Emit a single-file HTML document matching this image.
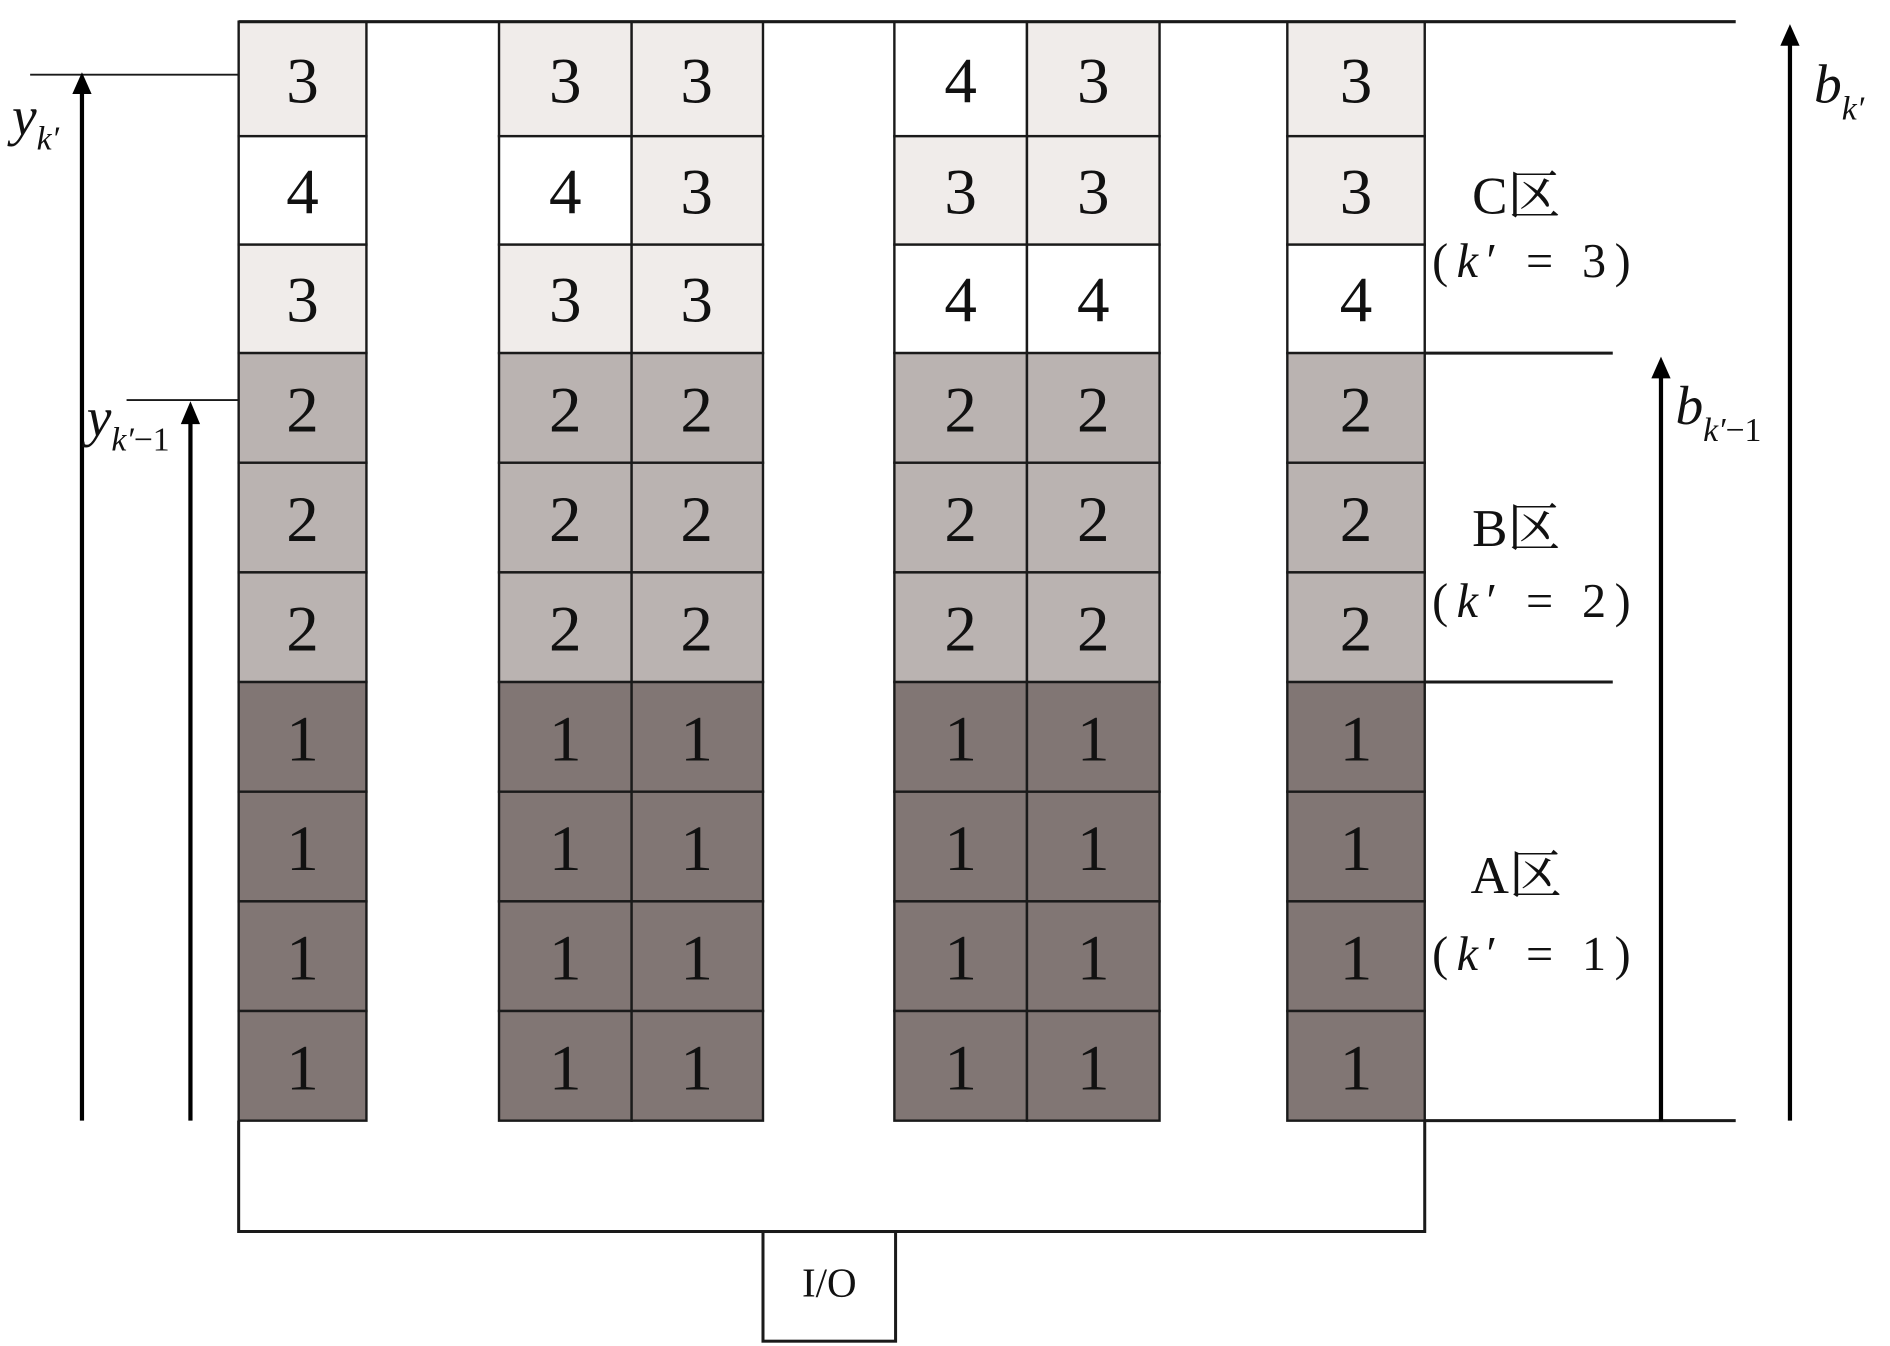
<!DOCTYPE html>
<html><head><meta charset="utf-8"><style>html,body{margin:0;padding:0;background:#fff}svg{display:block}</style></head>
<body>
<svg width="1890" height="1346" viewBox="0 0 1568 1117" preserveAspectRatio="none" xmlns="http://www.w3.org/2000/svg">
<g stroke="#1a1a1a" stroke-width="2">
<rect x="198" y="18" width="106" height="95" fill="#f0ecea"/>
<rect x="198" y="113" width="106" height="90" fill="#fff"/>
<rect x="198" y="203" width="106" height="90" fill="#f0ecea"/>
<rect x="414" y="18" width="110" height="95" fill="#f0ecea"/>
<rect x="414" y="113" width="110" height="90" fill="#fff"/>
<rect x="414" y="203" width="110" height="90" fill="#f0ecea"/>
<rect x="524" y="18" width="109" height="95" fill="#f0ecea"/>
<rect x="524" y="113" width="109" height="90" fill="#f0ecea"/>
<rect x="524" y="203" width="109" height="90" fill="#f0ecea"/>
<rect x="742" y="18" width="110" height="95" fill="#fff"/>
<rect x="742" y="113" width="110" height="90" fill="#f0ecea"/>
<rect x="742" y="203" width="110" height="90" fill="#fff"/>
<rect x="852" y="18" width="110" height="95" fill="#f0ecea"/>
<rect x="852" y="113" width="110" height="90" fill="#f0ecea"/>
<rect x="852" y="203" width="110" height="90" fill="#fff"/>
<rect x="1068" y="18" width="114" height="95" fill="#f0ecea"/>
<rect x="1068" y="113" width="114" height="90" fill="#f0ecea"/>
<rect x="1068" y="203" width="114" height="90" fill="#fff"/>
</g>
<g stroke="#1a1a1a" stroke-width="2" fill="#bab3b1">
<rect x="198" y="293" width="106" height="91"/><rect x="198" y="384" width="106" height="91"/><rect x="198" y="475" width="106" height="91"/>
<rect x="414" y="293" width="110" height="91"/><rect x="414" y="384" width="110" height="91"/><rect x="414" y="475" width="110" height="91"/>
<rect x="524" y="293" width="109" height="91"/><rect x="524" y="384" width="109" height="91"/><rect x="524" y="475" width="109" height="91"/>
<rect x="742" y="293" width="110" height="91"/><rect x="742" y="384" width="110" height="91"/><rect x="742" y="475" width="110" height="91"/>
<rect x="852" y="293" width="110" height="91"/><rect x="852" y="384" width="110" height="91"/><rect x="852" y="475" width="110" height="91"/>
<rect x="1068" y="293" width="114" height="91"/><rect x="1068" y="384" width="114" height="91"/><rect x="1068" y="475" width="114" height="91"/>
</g>
<g stroke="#1a1a1a" stroke-width="2" fill="#817674">
<rect x="198" y="566" width="106" height="91"/><rect x="198" y="657" width="106" height="91"/><rect x="198" y="748" width="106" height="91"/><rect x="198" y="839" width="106" height="91"/>
<rect x="414" y="566" width="110" height="91"/><rect x="414" y="657" width="110" height="91"/><rect x="414" y="748" width="110" height="91"/><rect x="414" y="839" width="110" height="91"/>
<rect x="524" y="566" width="109" height="91"/><rect x="524" y="657" width="109" height="91"/><rect x="524" y="748" width="109" height="91"/><rect x="524" y="839" width="109" height="91"/>
<rect x="742" y="566" width="110" height="91"/><rect x="742" y="657" width="110" height="91"/><rect x="742" y="748" width="110" height="91"/><rect x="742" y="839" width="110" height="91"/>
<rect x="852" y="566" width="110" height="91"/><rect x="852" y="657" width="110" height="91"/><rect x="852" y="748" width="110" height="91"/><rect x="852" y="839" width="110" height="91"/>
<rect x="1068" y="566" width="114" height="91"/><rect x="1068" y="657" width="114" height="91"/><rect x="1068" y="748" width="114" height="91"/><rect x="1068" y="839" width="114" height="91"/>
</g>
<g stroke="#1a1a1a" stroke-width="2.5" fill="none">
<line x1="198" y1="18" x2="1440" y2="18"/>
<polyline points="198,930 198,1022 1182,1022 1182,930"/>
<rect x="633" y="1022" width="110" height="91" fill="#fff"/>
<line x1="1182" y1="293" x2="1338" y2="293"/>
<line x1="1182" y1="566" x2="1338" y2="566"/>
<line x1="1182" y1="930" x2="1440" y2="930"/>
<line x1="25" y1="62" x2="198" y2="62" stroke-width="1.5"/>
<line x1="105" y1="332" x2="198" y2="332" stroke-width="1.5"/>
</g>
<g stroke="#000" stroke-width="3.5">
<line x1="68" y1="930" x2="68" y2="75"/>
<line x1="158" y1="930" x2="158" y2="348"/>
<line x1="1378" y1="930" x2="1378" y2="310"/>
<line x1="1485" y1="930" x2="1485" y2="34"/>
</g>
<g fill="#000">
<polygon points="68,60 60,78 76,78"/>
<polygon points="158,333 150,352 166,352"/>
<polygon points="1378,296 1370,314 1386,314"/>
<polygon points="1485,20 1477,38 1493,38"/>
</g>
<g font-family="Liberation Serif, serif" font-size="54" text-anchor="middle" fill="#111">
<text x="251" y="85">3</text><text x="251" y="177">4</text><text x="251" y="267">3</text>
<text x="469" y="85">3</text><text x="469" y="177">4</text><text x="469" y="267">3</text>
<text x="578" y="85">3</text><text x="578" y="177">3</text><text x="578" y="267">3</text>
<text x="797" y="85">4</text><text x="797" y="177">3</text><text x="797" y="267">4</text>
<text x="907" y="85">3</text><text x="907" y="177">3</text><text x="907" y="267">4</text>
<text x="1125" y="85">3</text><text x="1125" y="177">3</text><text x="1125" y="267">4</text>
<text x="251" y="358">2</text><text x="251" y="449">2</text><text x="251" y="540">2</text>
<text x="469" y="358">2</text><text x="469" y="449">2</text><text x="469" y="540">2</text>
<text x="578" y="358">2</text><text x="578" y="449">2</text><text x="578" y="540">2</text>
<text x="797" y="358">2</text><text x="797" y="449">2</text><text x="797" y="540">2</text>
<text x="907" y="358">2</text><text x="907" y="449">2</text><text x="907" y="540">2</text>
<text x="1125" y="358">2</text><text x="1125" y="449">2</text><text x="1125" y="540">2</text>
<text x="251" y="631">1</text><text x="251" y="722">1</text><text x="251" y="813">1</text><text x="251" y="904">1</text>
<text x="469" y="631">1</text><text x="469" y="722">1</text><text x="469" y="813">1</text><text x="469" y="904">1</text>
<text x="578" y="631">1</text><text x="578" y="722">1</text><text x="578" y="813">1</text><text x="578" y="904">1</text>
<text x="797" y="631">1</text><text x="797" y="722">1</text><text x="797" y="813">1</text><text x="797" y="904">1</text>
<text x="907" y="631">1</text><text x="907" y="722">1</text><text x="907" y="813">1</text><text x="907" y="904">1</text>
<text x="1125" y="631">1</text><text x="1125" y="722">1</text><text x="1125" y="813">1</text><text x="1125" y="904">1</text>
</g>
<text x="688" y="1076" font-family="Liberation Serif, serif" font-size="34" text-anchor="middle" fill="#111">I/O</text>
<g font-family="Liberation Serif, 'Noto Serif CJK SC', serif" font-size="44" fill="#111" text-anchor="middle">
<text x="1258" y="177">C区</text>
<text x="1274" y="230" font-size="40" letter-spacing="7">(<tspan font-style="italic">k</tspan>′ = 3)</text>
<text x="1258" y="453">B区</text>
<text x="1274" y="512" font-size="40" letter-spacing="7">(<tspan font-style="italic">k</tspan>′ = 2)</text>
<text x="1258" y="741">A区</text>
<text x="1274" y="805" font-size="40" letter-spacing="7">(<tspan font-style="italic">k</tspan>′ = 1)</text>
</g>
<g font-family="Liberation Serif, serif" font-style="italic" fill="#111">
<text x="10" y="112" font-size="46">y<tspan font-size="28" dy="12">k′</tspan></text>
<text x="72" y="362" font-size="46">y<tspan font-size="28" dy="12">k′<tspan font-style="normal">−1</tspan></tspan></text>
<text x="1390" y="352" font-size="46">b<tspan font-size="28" dy="14">k′<tspan font-style="normal">−1</tspan></tspan></text>
<text x="1505" y="85" font-size="46">b<tspan font-size="28" dy="14">k′</tspan></text>
</g>
</svg>
</body></html>
